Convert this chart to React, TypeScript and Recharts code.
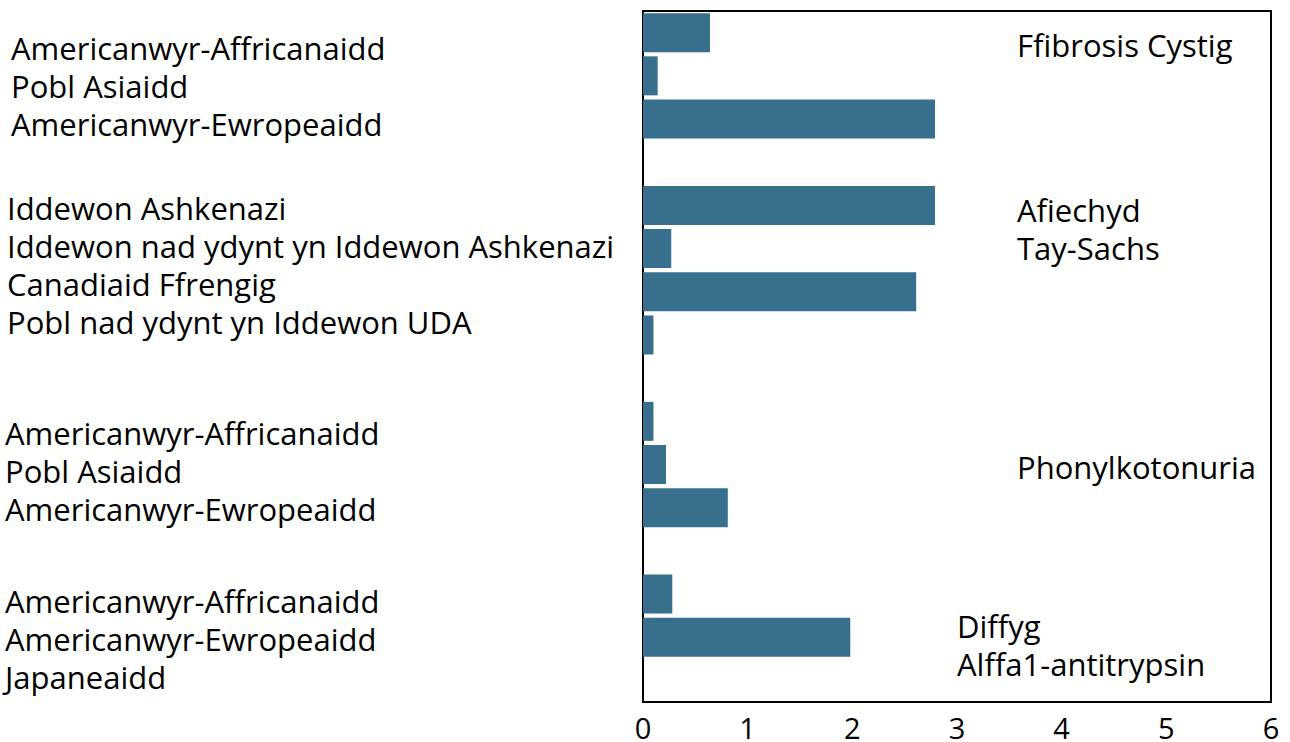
import React from 'react';
import { BarChart, Bar, XAxis, YAxis, ReferenceArea } from 'recharts';

// Population categories (one per bar slot; '' = spacer slot between diseases)
const populations = [
  'Americanwyr-Affricanaidd',
  'Pobl Asiaidd',
  'Americanwyr-Ewropeaidd',
  '',
  'Iddewon Ashkenazi',
  'Iddewon nad ydynt yn Iddewon Ashkenazi',
  'Canadiaid Ffrengig',
  'Pobl nad ydynt yn Iddewon UDA',
  '',
  'Americanwyr-Affricanaidd',
  'Pobl Asiaidd',
  'Americanwyr-Ewropeaidd',
  '',
  'Americanwyr-Affricanaidd',
  'Americanwyr-Ewropeaidd',
  'Japaneaidd',
];

const values = [0.64, 0.14, 2.79, null, 2.79, 0.27, 2.61, 0.1, null, 0.1, 0.22, 0.81, null, 0.28, 1.98, 0];

const xTicks = [0, 1, 2, 3, 4, 5, 6];

// Left-hand label groups
const leftGroups = [
  ['Americanwyr-Affricanaidd', 'Pobl Asiaidd', 'Americanwyr-Ewropeaidd'],
  ['Iddewon Ashkenazi', 'Iddewon nad ydynt yn Iddewon Ashkenazi', 'Canadiaid Ffrengig', 'Pobl nad ydynt yn Iddewon UDA'],
  ['Americanwyr-Affricanaidd', 'Pobl Asiaidd', 'Americanwyr-Ewropeaidd'],
  ['Americanwyr-Affricanaidd', 'Americanwyr-Ewropeaidd', 'Japaneaidd'],
];

// Disease labels (right side)
const diseaseLabels = [
  ['Ffibrosis Cystig'],
  ['Afiechyd', 'Tay-Sachs'],
  ['Phonylkotonuria'],
  ['Diffyg', 'Alffa1-antitrypsin'],
];

const data = populations.map((name, i) => ({ id: i, name, value: values[i] }));

const FONT = '"Open Sans", sans-serif';
const FS = 31;
const TICK_FS = 29;
const LINE = 38;

const leftLayout = [
  { x: 11, y: 60 },
  { x: 7, y: 220 },
  { x: 5, y: 445 },
  { x: 5, y: 613 },
];
const rightLayout = [
  { x: 1017, y: 57 },
  { x: 1017, y: 222 },
  { x: 1017, y: 479 },
  { x: 957, y: 638 },
];

export default function App() {
  return (
    <div style={{ position: 'absolute', left: 0, top: 0, width: 1290, height: 742, background: '#fff' }}>
      <BarChart
        width={1290}
        height={742}
        data={data}
        layout="vertical"
        margin={{ top: 11, right: 19, bottom: 0, left: 643 }}
        barCategoryGap="5%"
      >
        <XAxis
          type="number"
          domain={[0, 6]}
          ticks={xTicks}
          height={40}
          tickLine={false}
          tickMargin={10}
          axisLine={{ stroke: '#000', strokeWidth: 2 }}
          tick={{ fill: '#000', fontSize: TICK_FS, fontFamily: FONT }}
          interval={0}
        />
        <YAxis type="category" dataKey="id" hide />
        <ReferenceArea x1={0} x2={6} fill="none" fillOpacity={0} stroke="#000" strokeWidth={2} />
        <Bar dataKey="value" fill="#376F8C" isAnimationActive={false} />
        {leftGroups.map((g, gi) =>
          g.map((t, li) => (
            <text
              key={`l-${gi}-${li}`}
              x={leftLayout[gi].x}
              y={leftLayout[gi].y + li * LINE}
              fontFamily={FONT}
              fontSize={FS}
              fill="#000"
            >
              {t}
            </text>
          ))
        )}
        {diseaseLabels.map((g, gi) =>
          g.map((t, li) => (
            <text
              key={`r-${gi}-${li}`}
              x={rightLayout[gi].x}
              y={rightLayout[gi].y + li * LINE}
              fontFamily={FONT}
              fontSize={FS}
              fill="#000"
            >
              {t}
            </text>
          ))
        )}
      </BarChart>
    </div>
  );
}
